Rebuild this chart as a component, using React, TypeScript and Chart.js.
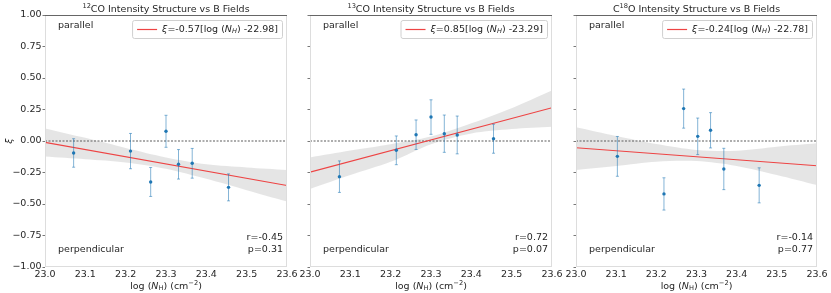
import React, { useEffect, useRef } from 'react';
import { Chart, registerables } from 'chart.js';
Chart.register(...registerables);

// ---------- data ----------
const X_TICKS = [23.0, 23.1, 23.2, 23.3, 23.4, 23.5, 23.6];
const X_TICK_LABELS = ['23.0', '23.1', '23.2', '23.3', '23.4', '23.5', '23.6'];
const Y_TICKS = [-1, -0.75, -0.5, -0.25, 0, 0.25, 0.5, 0.75, 1];
const Y_TICK_LABELS = ['−1.00', '−0.75', '−0.50', '−0.25', '0.00', '0.25', '0.50', '0.75', '1.00'];

const FIT_X = [23.0, 23.6];
const BAND_X = [23.0, 23.1, 23.2, 23.3, 23.4, 23.5, 23.6];
const ZERO_X = [23.0, 23.6];
const ZERO_Y = [0, 0];

// 12CO
const X_12CO = [23.071, 23.212, 23.262, 23.3, 23.331, 23.365, 23.455];
const Y_12CO = [-0.095, -0.08, -0.325, 0.077, -0.185, -0.177, -0.368];
const E_12CO = [0.113, 0.14, 0.115, 0.127, 0.117, 0.118, 0.107];
const FIT_12CO = [-0.011, -0.353];
const UP_12CO = [0.1, 0.025, -0.055, -0.13, -0.185, -0.21, -0.23];
const LO_12CO = [-0.124, -0.145, -0.17, -0.22, -0.3, -0.39, -0.48];

// 13CO
const X_13CO = [23.073, 23.214, 23.263, 23.3, 23.333, 23.365, 23.455];
const Y_13CO = [-0.283, -0.074, 0.05, 0.19, 0.058, 0.048, 0.018];
const E_13CO = [0.125, 0.114, 0.117, 0.137, 0.148, 0.15, 0.115];
const FIT_13CO = [-0.247, 0.264];
const UP_13CO = [-0.13, -0.075, -0.025, 0.035, 0.14, 0.26, 0.4];
const LO_13CO = [-0.38, -0.27, -0.165, -0.025, 0.06, 0.095, 0.113];

// C18O
const X_C18O = [23.103, 23.219, 23.268, 23.303, 23.335, 23.368, 23.456];
const Y_C18O = [-0.122, -0.42, 0.257, 0.037, 0.085, -0.222, -0.352];
const E_C18O = [0.158, 0.128, 0.155, 0.145, 0.14, 0.164, 0.139];
const FIT_C18O = [-0.053, -0.197];
const UP_C18O = [0.109, 0.04, -0.024, -0.071, -0.077, -0.045, -0.018];
const LO_C18O = [-0.23, -0.198, -0.164, -0.159, -0.198, -0.27, -0.35];

type Seg = [string, string];
const TITLE_12CO: Seg[] = [['12', 'sup'], ['CO Intensity Structure vs B Fields', 'n']];
const TITLE_13CO: Seg[] = [['13', 'sup'], ['CO Intensity Structure vs B Fields', 'n']];
const TITLE_C18O: Seg[] = [['C', 'n'], ['18', 'sup'], ['O Intensity Structure vs B Fields', 'n']];
const LEG_12CO: Seg[] = [['ξ', 'i'], ['=-0.57[log (', 'n'], ['N', 'i'], ['H', 'isub'], [') -22.98]', 'n']];
const LEG_13CO: Seg[] = [['ξ', 'i'], ['=0.85[log (', 'n'], ['N', 'i'], ['H', 'isub'], [') -23.29]', 'n']];
const LEG_C18O: Seg[] = [['ξ', 'i'], ['=-0.24[log (', 'n'], ['N', 'i'], ['H', 'isub'], [') -22.78]', 'n']];
const XLABEL: Seg[] = [['log (', 'n'], ['N', 'i'], ['H', 'sub'], [') (cm', 'n'], ['−2', 'sup'], [')', 'n']];

const PANELS = [
  { title: TITLE_12CO, legend: LEG_12CO, r: 'r=-0.45', p: 'p=0.31', xs: X_12CO, ys: Y_12CO, es: E_12CO, fit: FIT_12CO, up: UP_12CO, lo: LO_12CO, left: 45, right: 287, showY: true },
  { title: TITLE_13CO, legend: LEG_13CO, r: 'r=0.72', p: 'p=0.07', xs: X_13CO, ys: Y_13CO, es: E_13CO, fit: FIT_13CO, up: UP_13CO, lo: LO_13CO, left: 310, right: 552, showY: false },
  { title: TITLE_C18O, legend: LEG_C18O, r: 'r=-0.14', p: 'p=0.77', xs: X_C18O, ys: Y_C18O, es: E_C18O, fit: FIT_C18O, up: UP_C18O, lo: LO_C18O, left: 576, right: 817, showY: false },
];

// ---------- drawing helpers ----------
const FAM = '"DejaVu Sans", sans-serif';
const FS = 9.5;
const TXT = '#262626';
const RED = '#ee4444';

function segFont(style: string) {
  const small = style === 'sup' || style === 'sub' || style === 'isub';
  const size = small ? FS * 0.7 : FS;
  const ital = style === 'i' || style === 'isub';
  return `${ital ? 'italic ' : ''}${size}px ${FAM}`;
}
function segShift(style: string) {
  if (style === 'sup') return -FS * 0.38;
  if (style === 'sub' || style === 'isub') return FS * 0.22;
  return 0;
}
function drawSegs(ctx: CanvasRenderingContext2D, segs: Seg[], x: number, y: number, align: 'left' | 'center' | 'right') {
  ctx.save();
  ctx.textBaseline = 'middle';
  ctx.textAlign = 'left';
  let total = 0;
  const widths = segs.map(([t, s]) => {
    ctx.font = segFont(s);
    const w = ctx.measureText(t).width;
    total += w;
    return w;
  });
  let cx = align === 'left' ? x : align === 'center' ? x - total / 2 : x - total;
  segs.forEach(([t, s], i) => {
    ctx.font = segFont(s);
    ctx.fillText(t, cx, y + segShift(s));
    cx += widths[i];
  });
  ctx.restore();
  return total;
}
function segsWidth(ctx: CanvasRenderingContext2D, segs: Seg[]) {
  let total = 0;
  segs.forEach(([t, s]) => {
    ctx.font = segFont(s);
    total += ctx.measureText(t).width;
  });
  return total;
}

function makeChart(canvas: HTMLCanvasElement, P: typeof PANELS[number]) {
  const pts = P.xs.map((x, i) => ({ x, y: P.ys[i] }));
  const plugin = {
    id: 'custom' + P.left,
    beforeDatasetDraw(chart: any, args: any) {
      if (args.index !== 0) return;
      const ctx = chart.ctx as CanvasRenderingContext2D;
      const xs = chart.scales.x, ys = chart.scales.y;
      ctx.save();
      ctx.strokeStyle = 'rgba(31,119,180,0.55)';
      ctx.lineWidth = 1;
      P.xs.forEach((x, i) => {
        const px = xs.getPixelForValue(x);
        const y1 = ys.getPixelForValue(P.ys[i] + P.es[i]);
        const y2 = ys.getPixelForValue(P.ys[i] - P.es[i]);
        ctx.beginPath();
        ctx.moveTo(px, y1); ctx.lineTo(px, y2);
        ctx.moveTo(px - 1.5, y1); ctx.lineTo(px + 1.5, y1);
        ctx.moveTo(px - 1.5, y2); ctx.lineTo(px + 1.5, y2);
        ctx.stroke();
      });
      ctx.restore();
    },
    afterDraw(chart: any) {
      const ctx = chart.ctx as CanvasRenderingContext2D;
      const a = chart.chartArea;
      ctx.save();
      // frame
      ctx.strokeStyle = '#dddddd';
      ctx.lineWidth = 1;
      ctx.strokeRect(a.left + 0.5, a.top + 0.5, a.right - a.left - 1, a.bottom - a.top - 1);
      ctx.strokeStyle = '#666666';
      ctx.beginPath();
      ctx.moveTo(a.left, a.top + 0.5); ctx.lineTo(a.right, a.top + 0.5);
      ctx.stroke();
      ctx.fillStyle = TXT;
      const cxm = (a.left + a.right) / 2;
      // title
      drawSegs(ctx, P.title, cxm, a.top - 5.5, 'center');
      // y label
      if (P.showY) {
        ctx.save();
        ctx.translate(10, (a.top + a.bottom) / 2);
        ctx.rotate(-Math.PI / 2);
        drawSegs(ctx, [['ξ', 'i']], 0, 0, 'center');
        ctx.restore();
      }
      // x label
      drawSegs(ctx, XLABEL, cxm, a.bottom + 19.5, 'center');
      // annotations
      drawSegs(ctx, [['parallel', 'n']], a.left + 13, a.top + 11, 'left');
      drawSegs(ctx, [['perpendicular', 'n']], a.left + 13, a.bottom - 17, 'left');
      drawSegs(ctx, [[P.r, 'n']], a.right - 4, a.bottom - 29, 'right');
      drawSegs(ctx, [[P.p, 'n']], a.right - 4, a.bottom - 17, 'right');
      // legend
      const tw = segsWidth(ctx, P.legend);
      const bw = 5 + 20 + 5 + tw + 4;
      const bh = 18;
      const bx = a.right - 5 - bw;
      const by = a.top + 5;
      ctx.fillStyle = 'rgba(255,255,255,0.85)';
      ctx.strokeStyle = '#d0d0d0';
      ctx.lineWidth = 1;
      ctx.beginPath();
      (ctx as any).roundRect(bx + 0.5, by + 0.5, bw, bh, 2);
      ctx.fill();
      ctx.stroke();
      ctx.beginPath();
      ctx.strokeStyle = RED;
      ctx.lineWidth = 1.2;
      ctx.moveTo(bx + 5, by + 9.5);
      ctx.lineTo(bx + 25, by + 9.5);
      ctx.stroke();
      ctx.fillStyle = TXT;
      drawSegs(ctx, P.legend, bx + 30, by + 9.5, 'left');
      ctx.restore();
    },
  };

  return new Chart(canvas, {
    type: 'scatter',
    data: {
      datasets: [
        { data: pts, showLine: false, pointRadius: 1.7, pointBackgroundColor: '#1f77b4', pointBorderWidth: 0, pointHoverRadius: 1.7 },
        { data: FIT_X.map((x, i) => ({ x, y: P.fit[i] })), showLine: true, borderColor: RED, borderWidth: 1.1, pointRadius: 0 },
        { data: ZERO_X.map((x, i) => ({ x, y: ZERO_Y[i] })), showLine: true, borderColor: 'rgba(110,110,110,0.75)', borderWidth: 1.4, borderDash: [2, 1.5], pointRadius: 0 },
        { data: BAND_X.map((x, i) => ({ x, y: P.up[i] })), showLine: true, borderColor: 'transparent', borderWidth: 0, pointRadius: 0, fill: '+1', backgroundColor: 'rgba(150,150,150,0.25)', tension: 0.3 },
        { data: BAND_X.map((x, i) => ({ x, y: P.lo[i] })), showLine: true, borderColor: 'transparent', borderWidth: 0, pointRadius: 0, fill: false, tension: 0.3 },
      ] as any,
    },
    options: {
      animation: false,
      responsive: false,
      events: [],
      layout: { padding: { left: P.showY ? P.left - 45 : P.left, right: 831 - P.right, top: 15, bottom: 293 - 267 - 20 } },
      plugins: { legend: { display: false }, tooltip: { enabled: false } },
      scales: {
        x: {
          type: 'linear', min: 23, max: 23.6,
          afterBuildTicks: (s: any) => { s.ticks = X_TICKS.map((v) => ({ value: v })); },
          afterFit: (s: any) => { s.height = 20; },
          ticks: { autoSkip: false, maxRotation: 0, padding: 1.5, color: TXT, font: { family: FAM, size: FS }, callback: (_v: any, i: number) => X_TICK_LABELS[i] },
          grid: { drawOnChartArea: false, drawTicks: false },
          border: { display: false },
        },
        y: {
          type: 'linear', min: -1, max: 1,
          afterBuildTicks: (s: any) => { s.ticks = Y_TICKS.map((v) => ({ value: v })); },
          afterFit: (s: any) => { s.width = P.showY ? 45 : 0; },
          ticks: { display: P.showY, autoSkip: false, padding: 1, color: TXT, font: { family: FAM, size: FS }, callback: (_v: any, i: number) => Y_TICK_LABELS[i] },
          grid: { drawOnChartArea: false, drawTicks: true, tickLength: 2.5, tickColor: '#555', tickWidth: 0.8 },
          border: { display: false },
        },
      },
    } as any,
    plugins: [plugin],
  });
}

export default function App() {
  const r1 = useRef<HTMLCanvasElement>(null);
  const r2 = useRef<HTMLCanvasElement>(null);
  const r3 = useRef<HTMLCanvasElement>(null);
  useEffect(() => {
    const refs = [r1, r2, r3];
    const charts = refs.map((r, i) => makeChart(r.current!, PANELS[i]));
    return () => charts.forEach((c) => c.destroy());
  }, []);
  const st: React.CSSProperties = { position: 'absolute', left: 0, top: 0, width: 831, height: 293 };
  return (
    <div style={{ position: 'fixed', left: 0, top: 0, width: 831, height: 293, background: '#fff' }}>
      <canvas ref={r1} width={831} height={293} style={st} />
      <canvas ref={r2} width={831} height={293} style={st} />
      <canvas ref={r3} width={831} height={293} style={st} />
    </div>
  );
}
